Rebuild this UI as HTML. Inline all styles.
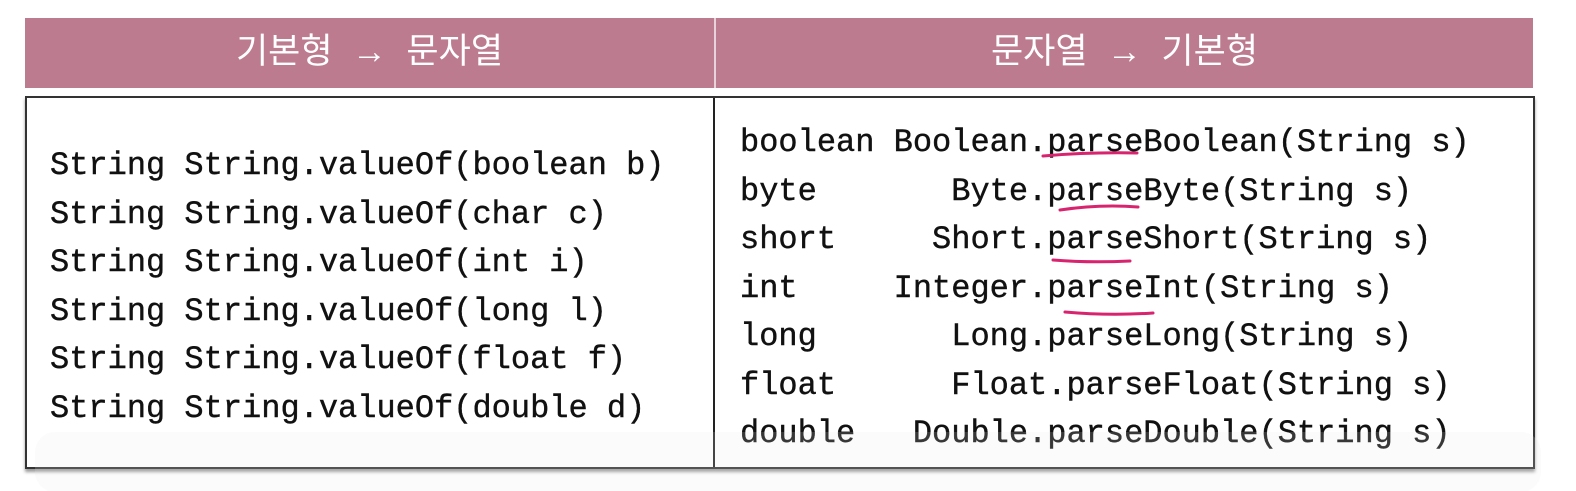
<!DOCTYPE html>
<html><head><meta charset="utf-8"><style>
html,body{margin:0;padding:0;background:#fff;width:1576px;height:491px;overflow:hidden;position:relative}
.hdr{position:absolute;top:18px;left:25px;width:1508px;height:70px;background:#bd7b8f;}
.hdr div{position:absolute;top:0;height:70px;line-height:68px;color:#fff;font-family:"Liberation Sans","Noto Sans CJK KR",sans-serif;font-size:35px;text-align:center;white-space:pre}
.hdr .d{position:absolute;left:689px;top:0;width:2px;height:70px;background:#e9d3da}
.box{position:absolute;top:96px;left:25px;width:1506px;height:369px;border:2px solid #333;box-shadow:0 3px 3px #999}
.vd{position:absolute;left:713px;top:98px;width:2px;height:369px;background:#222}
.t{position:absolute;font-family:"Liberation Mono",monospace;font-size:32px;white-space:pre;color:#111;line-height:48.5px;-webkit-text-stroke:0.4px #111}
</style></head><body>
<div class="hdr">
<div style="left:0;width:689px">기본형  →  문자열</div>
<div class="d"></div>
<div style="left:691px;width:817px">문자열  →  기본형</div>
</div>
<div class="box"></div>
<div class="vd"></div>
<div class="t" style="left:50px;top:142px">String String.valueOf(boolean b)
String String.valueOf(char c)
String String.valueOf(int i)
String String.valueOf(long l)
String String.valueOf(float f)
String String.valueOf(double d)</div>
<div class="t" style="left:740px;top:119px">boolean Boolean.parseBoolean(String s)
byte       Byte.parseByte(String s)
short     Short.parseShort(String s)
int     Integer.parseInt(String s)
long       Long.parseLong(String s)
float      Float.parseFloat(String s)
double   Double.parseDouble(String s)</div>
<svg width="1576" height="491" style="position:absolute;left:0;top:0">
<g stroke="#d8246e" stroke-width="3" fill="none" stroke-linecap="round">
<path d="M1043 156 Q1090 152 1137 153"/>
<path d="M1060 210 Q1100 204 1138 207"/>
<path d="M1053 260 Q1090 263 1130 261"/>
<path d="M1065 312 Q1110 316 1153 313"/>
</g>
<rect x="35" y="432" width="1506" height="60" rx="20" fill="#e8e8e8" opacity="0.18"/>
</svg>
</body></html>
